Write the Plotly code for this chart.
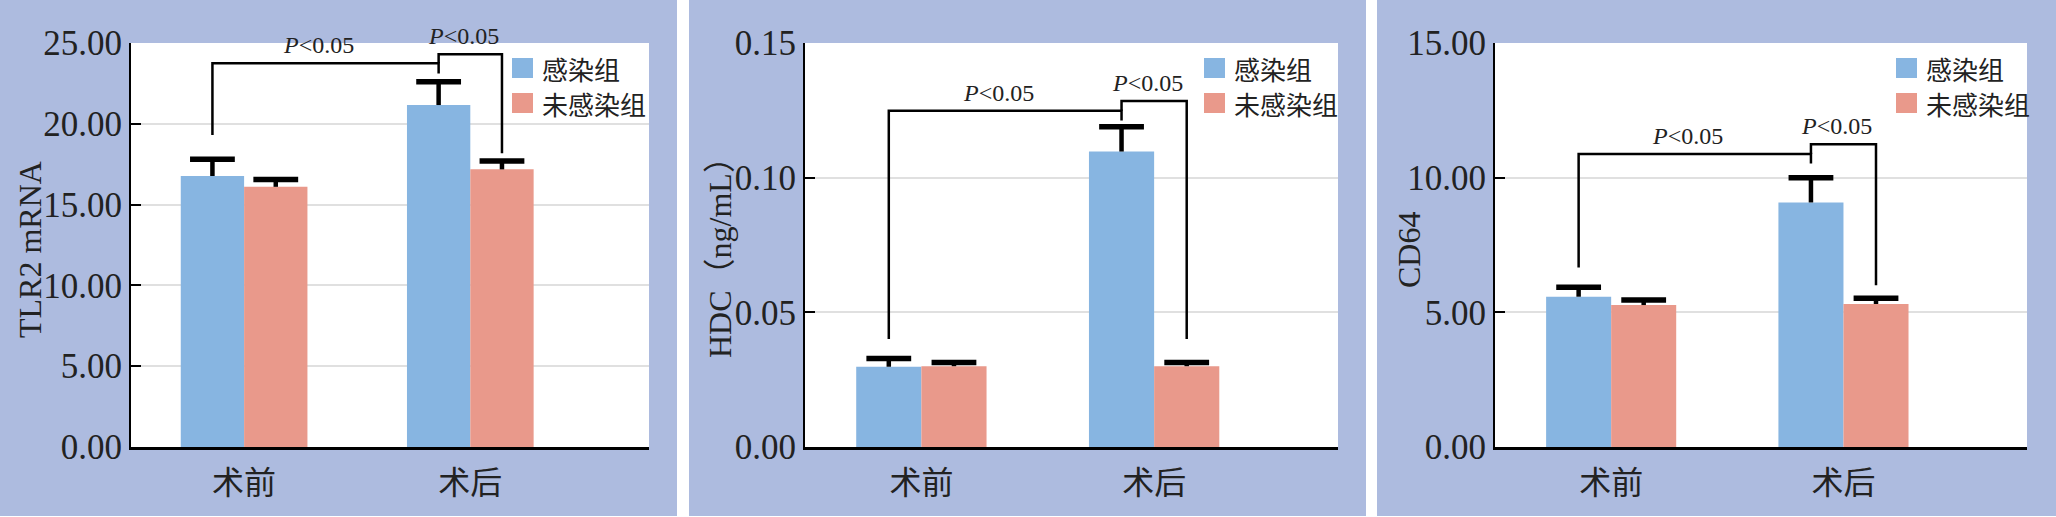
import plotly.graph_objects as go

W, H = 2056, 517

GROUPS = ["术前", "术后"]
SERIES = ["感染组", "未感染组"]
COLORS = ["#87b5e1", "#e9998b"]
BG = "#adbbdf"

# values (mean, upper error)
TLR2_INFECTED = [16.77, 21.16]
TLR2_INFECTED_ERR = [1.03, 1.44]
TLR2_UNINFECTED = [16.10, 17.18]
TLR2_UNINFECTED_ERR = [0.46, 0.52]

HDC_INFECTED = [0.0298, 0.1097]
HDC_INFECTED_ERR = [0.0031, 0.0092]
HDC_UNINFECTED = [0.0300, 0.0300]
HDC_UNINFECTED_ERR = [0.0014, 0.0014]

CD64_INFECTED = [5.58, 9.08]
CD64_INFECTED_ERR = [0.35, 0.92]
CD64_UNINFECTED = [5.27, 5.31]
CD64_UNINFECTED_ERR = [0.19, 0.21]

# significance brackets: (left leg bottom, top, right leg bottom)
TLR2_BRACKETS = [(19.3, 23.74, 23.12), (23.74, 24.3, 18.17)]
HDC_BRACKETS = [(0.0401, 0.1248, 0.1212), (0.1248, 0.1285, 0.0401)]
CD64_BRACKETS = [(6.66, 10.88, 10.53), (10.88, 11.24, 6.01)]
P_TEXT = "<i>P</i>&lt;0.05"

panels = [
    dict(title="TLR2 mRNA", rng=[0, 25], dtick=5,
         vals=[TLR2_INFECTED, TLR2_UNINFECTED], errs=[TLR2_INFECTED_ERR, TLR2_UNINFECTED_ERR],
         brackets=TLR2_BRACKETS, px=(131, 649), bg=(0, 677), title_x=30, leg_x=512),
    dict(title="HDC（ng/mL）", rng=[0, 0.15], dtick=0.05,
         vals=[HDC_INFECTED, HDC_UNINFECTED], errs=[HDC_INFECTED_ERR, HDC_UNINFECTED_ERR],
         brackets=HDC_BRACKETS, px=(805, 1338), bg=(689, 1366), title_x=720, leg_x=1204),
    dict(title="CD64", rng=[0, 15], dtick=5,
         vals=[CD64_INFECTED, CD64_UNINFECTED], errs=[CD64_INFECTED_ERR, CD64_UNINFECTED_ERR],
         brackets=CD64_BRACKETS, px=(1495, 2027), bg=(1377, 2056), title_x=1409, leg_x=1896),
]

BAR_W = 0.28
PLOT_TOP, PLOT_BOTTOM = 43, 447
SERIF = "Liberation Serif, Times New Roman, Noto Sans CJK SC, serif"
TEXT = "#222"

fig = go.Figure()
shapes, annotations = [], []

for k, p in enumerate(panels):
    n = "" if k == 0 else str(k + 1)
    xa, ya = "x" + n, "y" + n
    xs = list(range(len(GROUPS)))
    centers = [[i - BAR_W / 2 for i in xs], [i + BAR_W / 2 for i in xs]]

    for s, name in enumerate(SERIES):
        fig.add_trace(go.Bar(
            x=xs, y=p["vals"][s], name=name, xaxis=xa, yaxis=ya,
            width=BAR_W, offset=-BAR_W if s == 0 else 0,
            marker=dict(color=COLORS[s], line=dict(width=0)),
            error_y=dict(type="data", array=p["errs"][s], symmetric=False,
                         arrayminus=[0] * len(xs), color="black", thickness=4.5, width=0),
            showlegend=False,
        ))
        # error bar caps (upper only)
        fig.add_trace(go.Scatter(
            x=centers[s], y=[v + e for v, e in zip(p["vals"][s], p["errs"][s])],
            mode="markers", xaxis=xa, yaxis=ya, showlegend=False, hoverinfo="skip",
            marker=dict(symbol="line-ew", size=32, line=dict(color="black", width=5.5)),
        ))

    # bracket x positions follow bar centres
    blue, pink = centers
    spans = [(blue[0], blue[1]), (blue[1], pink[1])]
    for (x0, x1), (yl, yt, yr) in zip(spans, p["brackets"]):
        fig.add_trace(go.Scatter(
            x=[x0, x0, x1, x1], y=[yl, yt, yt, yr], mode="lines", xaxis=xa, yaxis=ya,
            line=dict(color="black", width=2.5), showlegend=False, hoverinfo="skip",
            cliponaxis=False,
        ))
        annotations.append(dict(
            x=(x0 + x1) / 2, y=yt, xref=xa, yref=ya, text=P_TEXT, showarrow=False,
            yanchor="bottom", yshift=3, xshift=-7, font=dict(family=SERIF, size=24, color=TEXT),
        ))

    x0p, x1p = p["px"]
    fig.update_layout(**{
        "xaxis" + n: dict(
            domain=[x0p / W, x1p / W], range=[-0.5, 1.79], tickvals=xs, ticktext=GROUPS,
            showline=True, linecolor="black", linewidth=3, ticks="", showgrid=False,
            zeroline=False, anchor=ya, fixedrange=True, automargin=False,
            tickfont=dict(family=SERIF, size=32, color=TEXT), ticklabelstandoff=6,
        ),
        "yaxis" + n: dict(
            domain=[(H - PLOT_BOTTOM) / H, (H - PLOT_TOP) / H], range=p["rng"], dtick=p["dtick"],
            tickformat=".2f", showline=True, linecolor="black", linewidth=2,
            ticks="inside", ticklen=10, tickwidth=2, tickcolor="black",
            showgrid=True, gridcolor="#e0e0e0", gridwidth=2, zeroline=False,
            anchor=xa, fixedrange=True, automargin=False,
            tickfont=dict(family=SERIF, size=35, color=TEXT),
        ),
    })

    # panel background and white plot area
    b0, b1 = p["bg"]
    shapes.append(dict(type="rect", xref="paper", yref="paper", x0=b0 / W, x1=b1 / W,
                       y0=1 / H, y1=1, fillcolor=BG, line=dict(width=0), layer="below"))
    shapes.append(dict(type="rect", xref="paper", yref="paper", x0=x0p / W, x1=x1p / W,
                       y0=(H - PLOT_BOTTOM) / H, y1=(H - PLOT_TOP) / H,
                       fillcolor="white", line=dict(width=0), layer="below"))

    annotations.append(dict(
        x=p["title_x"] / W, y=(H - 250) / H, xref="paper", yref="paper", text=p["title"],
        textangle=-90, showarrow=False, xanchor="center", yanchor="middle",
        font=dict(family=SERIF, size=32, color=TEXT),
    ))

    # legend
    for s, name in enumerate(SERIES):
        top = 58 + s * 35
        shapes.append(dict(type="rect", xref="paper", yref="paper",
                           x0=p["leg_x"] / W, x1=(p["leg_x"] + 21) / W,
                           y0=(H - top - 20) / H, y1=(H - top) / H,
                           fillcolor=COLORS[s], line=dict(width=0)))
        annotations.append(dict(
            x=(p["leg_x"] + 28) / W, y=(H - top - 10) / H, xref="paper", yref="paper",
            text=name, showarrow=False, xanchor="left", yanchor="middle",
            font=dict(family="Noto Sans CJK SC, sans-serif", size=26, color=TEXT),
        ))

fig.update_layout(
    width=W, height=H, margin=dict(l=0, r=0, t=0, b=0, pad=0, autoexpand=False),
    paper_bgcolor="white", plot_bgcolor="white",
    barmode="overlay", shapes=shapes, annotations=annotations,
)

fig.write_html("out.html", config={"displayModeBar": False},
               post_script="document.body.style.margin='0';")
